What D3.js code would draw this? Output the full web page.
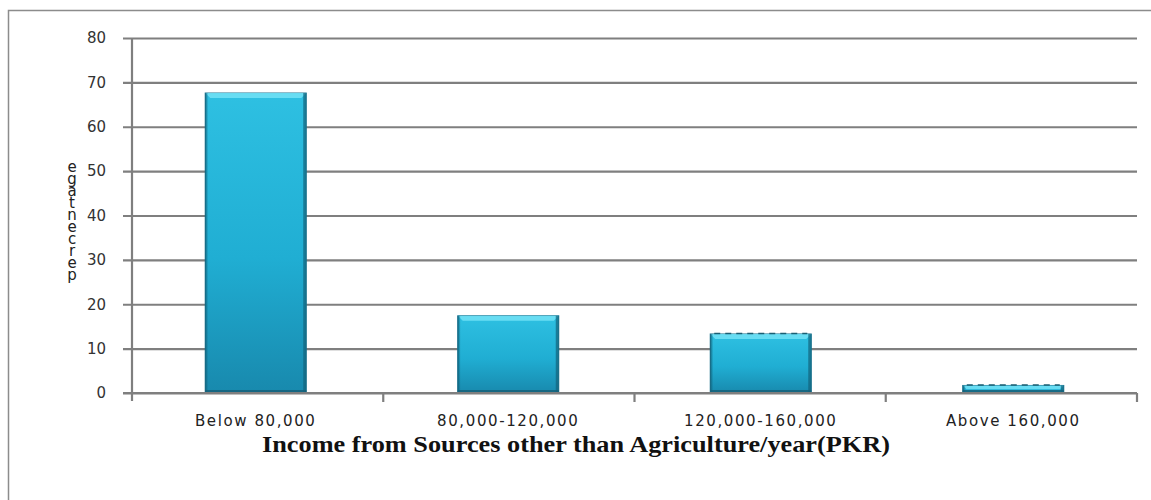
<!DOCTYPE html>
<html>
<head>
<meta charset="utf-8">
<script src="https://cdn.jsdelivr.net/npm/d3@7"></script>
<style>
  html, body { margin: 0; padding: 0; background: #fff; }
  svg { display: block; }
</style>
</head>
<body>
<svg id="chart" width="1151" height="500"></svg>
<script>
// Share of respondents by yearly non-farm income bracket
const categories = ["Below 80,000", "80,000-120,000", "120,000-160,000", "Above 160,000"];
const percentages = [67.6, 17.4, 13.3, 1.7];
const yTicks = [0, 10, 20, 30, 40, 50, 60, 70, 80];
const xTitle = "Income from Sources other than Agriculture/year(PKR)";
const yTitle = "percentage";

const svg = d3.select("#chart");
const W = 1151, H = 500;
const plot = { left: 132, right: 1137, top: 38, bottom: 393 };

// outer frame (runs off the right and bottom edges)
svg.append("path")
  .attr("d", `M8.5,${H + 5} V10.5 H${W + 5}`)
  .attr("fill", "none")
  .attr("stroke", "#8c8c8c")
  .attr("stroke-width", 1.5);

const x = d3.scaleBand()
  .domain(categories)
  .range([plot.left, plot.right])
  .paddingInner(0.6)
  .paddingOuter(0.29);

const xBand = d3.scaleBand()
  .domain(categories)
  .range([plot.left, plot.right]);

const y = d3.scaleLinear()
  .domain([0, 80])
  .range([plot.bottom, plot.top]);

// gradient for the bevelled bars
const defs = svg.append("defs");
const grad = defs.append("linearGradient")
  .attr("id", "barFill").attr("x1", 0).attr("y1", 0).attr("x2", 0).attr("y2", 1);
grad.append("stop").attr("offset", "0%").attr("stop-color", "#2ec0e2");
grad.append("stop").attr("offset", "55%").attr("stop-color", "#20aed3");
grad.append("stop").attr("offset", "100%").attr("stop-color", "#1889ad");

const sideGrad = defs.append("linearGradient")
  .attr("id", "sideFill").attr("x1", 0).attr("y1", 0).attr("x2", 1).attr("y2", 0);
sideGrad.append("stop").attr("offset", "0%").attr("stop-color", "#0f5f78").attr("stop-opacity", 0.9);
sideGrad.append("stop").attr("offset", "100%").attr("stop-color", "#0f5f78").attr("stop-opacity", 0);

// y gridlines with left ticks
const yAxis = d3.axisLeft(y)
  .tickValues(yTicks)
  .tickSize(-(plot.right - plot.left))
  .tickSizeOuter(0)
  .tickPadding(26)
  .tickFormat(d3.format("d"));

const gy = svg.append("g")
  .attr("transform", `translate(${plot.left},0)`)
  .call(yAxis);
gy.select(".domain").remove();
gy.selectAll(".tick line")
  .attr("x1", -9)
  .attr("stroke", "#7f7f7f")
  .attr("stroke-width", 2.2);
gy.selectAll(".tick text")
  .attr("font-family", "'DejaVu Sans', Verdana, sans-serif")
  .attr("font-size", 15)
  .attr("fill", "#333");

// vertical axis line
svg.append("line")
  .attr("x1", plot.left).attr("x2", plot.left)
  .attr("y1", y(80)).attr("y2", plot.bottom + 8)
  .attr("stroke", "#7f7f7f").attr("stroke-width", 2.2);

// category boundary ticks below the baseline
svg.append("g")
  .selectAll("line")
  .data(categories.slice(1).map(c => xBand(c)).concat([plot.right]))
  .join("line")
  .attr("x1", d => d).attr("x2", d => d)
  .attr("y1", plot.bottom).attr("y2", plot.bottom + 9)
  .attr("stroke", "#7f7f7f").attr("stroke-width", 2.2);

// bars
const bars = svg.append("g")
  .selectAll("g")
  .data(categories.map((c, i) => ({ c, v: percentages[i], i })))
  .join("g");

bars.append("rect")
  .attr("x", d => x(d.c))
  .attr("y", d => y(d.v))
  .attr("width", x.bandwidth())
  .attr("height", d => y(0) - y(d.v))
  .attr("fill", "url(#barFill)")
  .attr("stroke", "#19708c")
  .attr("stroke-width", 1);

// top bevel
const bev = 5;
bars.append("path")
  .attr("d", d => {
    const x0 = x(d.c), x1 = x0 + x.bandwidth(), t = y(d.v);
    const b = Math.min(bev, (y(0) - t) / 2);
    return `M${x0},${t} H${x1} L${x1 - b},${t + b} H${x0 + b} Z`;
  })
  .attr("fill", "#6fe0f5")
  .attr("opacity", 0.9);

// side shading
bars.append("rect")
  .attr("x", d => x(d.c))
  .attr("y", d => y(d.v))
  .attr("width", 3)
  .attr("height", d => y(0) - y(d.v))
  .attr("fill", "url(#sideFill)");
bars.append("rect")
  .attr("x", d => x(d.c) + x.bandwidth() - 3)
  .attr("y", d => y(d.v))
  .attr("width", 3)
  .attr("height", d => y(0) - y(d.v))
  .attr("fill", "#13627b")
  .attr("opacity", 0.7);

// bottom shade
bars.append("rect")
  .attr("x", d => x(d.c))
  .attr("y", d => y(0) - 3)
  .attr("width", x.bandwidth())
  .attr("height", 3)
  .attr("fill", "#155f78")
  .attr("opacity", 0.8);

// dashed top edge on the shorter bars
bars.filter(d => d.i >= 2).append("line")
  .attr("x1", d => x(d.c) + 4)
  .attr("x2", d => x(d.c) + x.bandwidth() - 4)
  .attr("y1", d => y(d.v) - 0.5)
  .attr("y2", d => y(d.v) - 0.5)
  .attr("stroke", "#1a5f73")
  .attr("stroke-width", 1.5)
  .attr("stroke-dasharray", "6,5");

// baseline
svg.append("line")
  .attr("x1", plot.left - 9).attr("x2", plot.right)
  .attr("y1", plot.bottom).attr("y2", plot.bottom)
  .attr("stroke", "#7f7f7f").attr("stroke-width", 2.2);

// category labels
svg.append("g")
  .selectAll("text")
  .data(categories)
  .join("text")
  .attr("x", d => x(d) + x.bandwidth() / 2)
  .attr("y", 426)
  .attr("text-anchor", "middle")
  .attr("font-family", "'DejaVu Sans', Verdana, sans-serif")
  .attr("font-size", 15)
  .attr("letter-spacing", 1.6)
  .attr("fill", "#222")
  .text(d => d);

// x axis title
svg.append("text")
  .attr("x", 576)
  .attr("y", 452)
  .attr("text-anchor", "middle")
  .attr("font-family", "'Liberation Serif', 'Times New Roman', serif")
  .attr("font-weight", "bold")
  .attr("font-size", 24)
  .attr("textLength", 628)
  .attr("lengthAdjust", "spacingAndGlyphs")
  .attr("fill", "#111")
  .text(xTitle);

// y axis title: upright letters stacked bottom-to-top
svg.append("text")
  .attr("x", 72)
  .attr("y", 158)
  .attr("font-family", "'DejaVu Sans', Verdana, sans-serif")
  .attr("font-size", 15)
  .attr("letter-spacing", -6)
  .attr("fill", "#222")
  .style("writing-mode", "vertical-rl")
  .style("text-orientation", "upright")
  .text(yTitle.split("").reverse().join(""));
</script>
</body>
</html>
